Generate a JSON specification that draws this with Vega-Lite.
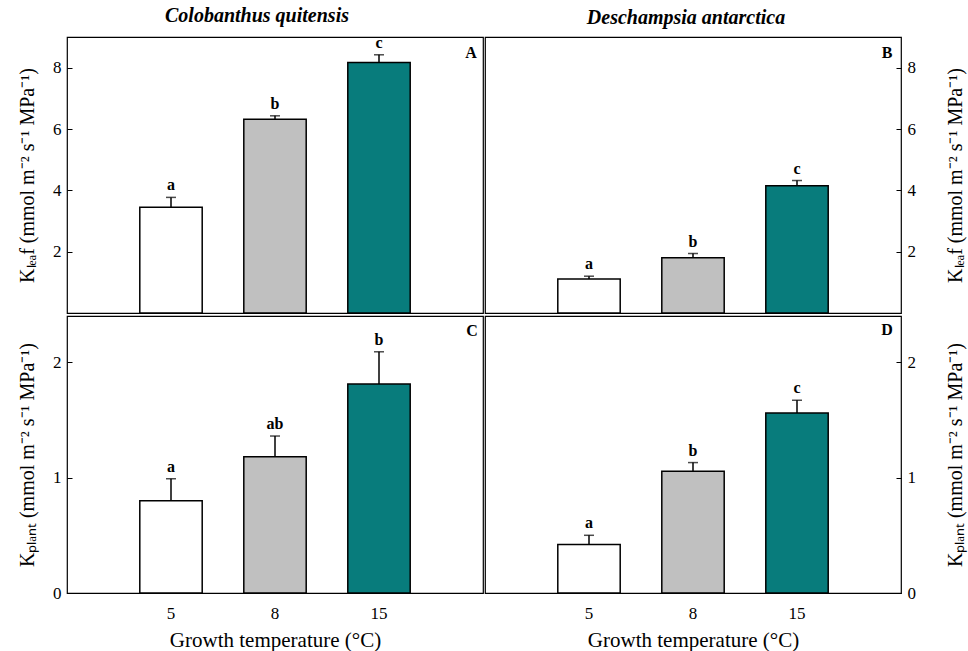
{
  "$schema": "https://vega.github.io/schema/vega-lite/v6.json",
  "padding": {"left": 16, "top": 5, "right": 2, "bottom": 3},
  "background": "white",
  "config": {
    "font": "Liberation Serif",
    "view": {"stroke": "black", "strokeWidth": 1.2},
    "axis": {"labelFont": "Liberation Serif", "titleFont": "Liberation Serif", "labelFontSize": 17, "titleFontSize": 20, "titleFontWeight": "normal", "labelColor": "black", "titleColor": "black", "tickColor": "black", "domain": false, "grid": false},
    "title": {"font": "Liberation Serif", "color": "black"}
  },
  "data": {"values": [
    {"species": "Colobanthus quitensis", "measure": "Kleaf", "temp": "5", "mean": 3.45, "upper": 3.77, "letter": "a"},
    {"species": "Colobanthus quitensis", "measure": "Kleaf", "temp": "8", "mean": 6.32, "upper": 6.43, "letter": "b"},
    {"species": "Colobanthus quitensis", "measure": "Kleaf", "temp": "15", "mean": 8.17, "upper": 8.42, "letter": "c"},
    {"species": "Deschampsia antarctica", "measure": "Kleaf", "temp": "5", "mean": 1.11, "upper": 1.2, "letter": "a"},
    {"species": "Deschampsia antarctica", "measure": "Kleaf", "temp": "8", "mean": 1.8, "upper": 1.94, "letter": "b"},
    {"species": "Deschampsia antarctica", "measure": "Kleaf", "temp": "15", "mean": 4.15, "upper": 4.32, "letter": "c"},
    {"species": "Colobanthus quitensis", "measure": "Kplant", "temp": "5", "mean": 0.8, "upper": 0.99, "letter": "a"},
    {"species": "Colobanthus quitensis", "measure": "Kplant", "temp": "8", "mean": 1.18, "upper": 1.36, "letter": "ab"},
    {"species": "Colobanthus quitensis", "measure": "Kplant", "temp": "15", "mean": 1.81, "upper": 2.09, "letter": "b"},
    {"species": "Deschampsia antarctica", "measure": "Kplant", "temp": "5", "mean": 0.42, "upper": 0.5, "letter": "a"},
    {"species": "Deschampsia antarctica", "measure": "Kplant", "temp": "8", "mean": 1.055, "upper": 1.13, "letter": "b"},
    {"species": "Deschampsia antarctica", "measure": "Kplant", "temp": "15", "mean": 1.56, "upper": 1.67, "letter": "c"}
  ]},
  "spacing": 0,
  "hconcat": [
    {
      "spacing": 0,
      "vconcat": [
        {
          "width": 416, "height": 276,
          "title": {"text": "Colobanthus quitensis", "anchor": "middle", "fontSize": 20, "fontWeight": "bold", "fontStyle": "italic", "frame": "group", "offset": 9, "dx": -18},
          "transform": [{"filter": "datum.species === 'Colobanthus quitensis' && datum.measure === 'Kleaf'"}],
          "encoding": {"x": {"field": "temp", "type": "nominal", "sort": ["5", "8", "15"], "scale": {"paddingInner": 0.4, "paddingOuter": 0.7}, "axis": null}},
          "layer": [
            {"mark": {"type": "bar", "stroke": "black", "strokeWidth": 1.5},
             "encoding": {"y": {"field": "mean", "type": "quantitative", "scale": {"domain": [0, 9], "nice": false}, "axis": {"title": "Kₗₑₐf (mmol m⁻² s⁻¹ MPa⁻¹)", "values": [2, 4, 6, 8], "format": "d", "tickSize": -5, "labelPadding": 11, "titlePadding": 15}},
                          "color": {"field": "temp", "type": "nominal", "scale": {"domain": ["5", "8", "15"], "range": ["#ffffff", "#c0c0c0", "#087c7c"]}, "legend": null}}},
            {"mark": {"type": "rule", "strokeWidth": 1.5, "color": "black"}, "encoding": {"y": {"field": "mean", "type": "quantitative"}, "y2": {"field": "upper"}}},
            {"mark": {"type": "tick", "size": 10, "thickness": 1.5, "color": "black"}, "encoding": {"y": {"field": "upper", "type": "quantitative"}}},
            {"mark": {"type": "text", "dy": -4, "baseline": "bottom", "fontSize": 16, "fontWeight": "bold", "color": "black"}, "encoding": {"y": {"field": "upper", "type": "quantitative"}, "text": {"field": "letter"}}},
            {"transform": [{"filter": "datum.temp === '15'"}], "mark": {"type": "text", "text": "A", "dx": 92, "baseline": "middle", "fontSize": 16, "fontWeight": "bold", "color": "black"}, "encoding": {"x": {"datum": "15"}, "y": {"datum": 8.48}}}
          ]
        },
        {
          "width": 416, "height": 277,
          "transform": [{"filter": "datum.species === 'Colobanthus quitensis' && datum.measure === 'Kplant'"}],
          "encoding": {"x": {"field": "temp", "type": "nominal", "sort": ["5", "8", "15"], "scale": {"paddingInner": 0.4, "paddingOuter": 0.7}, "axis": {"title": "Growth temperature (°C)", "labelAngle": 0, "ticks": false, "labelPadding": 12, "titlePadding": 8, "titleFontSize": 21}}},
          "layer": [
            {"mark": {"type": "bar", "stroke": "black", "strokeWidth": 1.5},
             "encoding": {"y": {"field": "mean", "type": "quantitative", "scale": {"domain": [0, 2.4], "nice": false}, "axis": {"title": "Kₚₗₐₙₜ (mmol m⁻² s⁻¹ MPa⁻¹)", "values": [0, 1, 2], "format": "d", "tickSize": -5, "labelPadding": 11, "titlePadding": 15}},
                          "color": {"field": "temp", "type": "nominal", "scale": {"domain": ["5", "8", "15"], "range": ["#ffffff", "#c0c0c0", "#087c7c"]}, "legend": null}}},
            {"mark": {"type": "rule", "strokeWidth": 1.5, "color": "black"}, "encoding": {"y": {"field": "mean", "type": "quantitative"}, "y2": {"field": "upper"}}},
            {"mark": {"type": "tick", "size": 10, "thickness": 1.5, "color": "black"}, "encoding": {"y": {"field": "upper", "type": "quantitative"}}},
            {"mark": {"type": "text", "dy": -4, "baseline": "bottom", "fontSize": 16, "fontWeight": "bold", "color": "black"}, "encoding": {"y": {"field": "upper", "type": "quantitative"}, "text": {"field": "letter"}}},
            {"transform": [{"filter": "datum.temp === '15'"}], "mark": {"type": "text", "text": "C", "dx": 93, "baseline": "middle", "fontSize": 16, "fontWeight": "bold", "color": "black"}, "encoding": {"x": {"datum": "15"}, "y": {"datum": 2.27}}}
          ]
        }
      ]
    },
    {
      "spacing": 0,
      "vconcat": [
        {
          "width": 416, "height": 276,
          "title": {"text": "Deschampsia antarctica", "anchor": "middle", "fontSize": 20, "fontWeight": "bold", "fontStyle": "italic", "frame": "group", "offset": 9, "dx": -7},
          "transform": [{"filter": "datum.species === 'Deschampsia antarctica' && datum.measure === 'Kleaf'"}],
          "encoding": {"x": {"field": "temp", "type": "nominal", "sort": ["5", "8", "15"], "scale": {"paddingInner": 0.4, "paddingOuter": 0.7}, "axis": null}},
          "layer": [
            {"mark": {"type": "bar", "stroke": "black", "strokeWidth": 1.5},
             "encoding": {"y": {"field": "mean", "type": "quantitative", "scale": {"domain": [0, 9], "nice": false}, "axis": {"orient": "right", "title": "Kₗₑₐf (mmol m⁻² s⁻¹ MPa⁻¹)", "titleAngle": 270, "titleBaseline": "top", "values": [2, 4, 6, 8], "format": "d", "tickSize": -5, "labelPadding": 11, "titlePadding": 30}},
                          "color": {"field": "temp", "type": "nominal", "scale": {"domain": ["5", "8", "15"], "range": ["#ffffff", "#c0c0c0", "#087c7c"]}, "legend": null}}},
            {"mark": {"type": "rule", "strokeWidth": 1.5, "color": "black"}, "encoding": {"y": {"field": "mean", "type": "quantitative"}, "y2": {"field": "upper"}}},
            {"mark": {"type": "tick", "size": 10, "thickness": 1.5, "color": "black"}, "encoding": {"y": {"field": "upper", "type": "quantitative"}}},
            {"mark": {"type": "text", "dy": -4, "baseline": "bottom", "fontSize": 16, "fontWeight": "bold", "color": "black"}, "encoding": {"y": {"field": "upper", "type": "quantitative"}, "text": {"field": "letter"}}},
            {"transform": [{"filter": "datum.temp === '15'"}], "mark": {"type": "text", "text": "B", "dx": 90, "baseline": "middle", "fontSize": 16, "fontWeight": "bold", "color": "black"}, "encoding": {"x": {"datum": "15"}, "y": {"datum": 8.48}}}
          ]
        },
        {
          "width": 416, "height": 277,
          "transform": [{"filter": "datum.species === 'Deschampsia antarctica' && datum.measure === 'Kplant'"}],
          "encoding": {"x": {"field": "temp", "type": "nominal", "sort": ["5", "8", "15"], "scale": {"paddingInner": 0.4, "paddingOuter": 0.7}, "axis": {"title": "Growth temperature (°C)", "labelAngle": 0, "ticks": false, "labelPadding": 12, "titlePadding": 8, "titleFontSize": 21}}},
          "layer": [
            {"mark": {"type": "bar", "stroke": "black", "strokeWidth": 1.5},
             "encoding": {"y": {"field": "mean", "type": "quantitative", "scale": {"domain": [0, 2.4], "nice": false}, "axis": {"orient": "right", "title": "Kₚₗₐₙₜ (mmol m⁻² s⁻¹ MPa⁻¹)", "titleAngle": 270, "titleBaseline": "top", "values": [0, 1, 2], "format": "d", "tickSize": -5, "labelPadding": 11, "titlePadding": 30}},
                          "color": {"field": "temp", "type": "nominal", "scale": {"domain": ["5", "8", "15"], "range": ["#ffffff", "#c0c0c0", "#087c7c"]}, "legend": null}}},
            {"mark": {"type": "rule", "strokeWidth": 1.5, "color": "black"}, "encoding": {"y": {"field": "mean", "type": "quantitative"}, "y2": {"field": "upper"}}},
            {"mark": {"type": "tick", "size": 10, "thickness": 1.5, "color": "black"}, "encoding": {"y": {"field": "upper", "type": "quantitative"}}},
            {"mark": {"type": "text", "dy": -4, "baseline": "bottom", "fontSize": 16, "fontWeight": "bold", "color": "black"}, "encoding": {"y": {"field": "upper", "type": "quantitative"}, "text": {"field": "letter"}}},
            {"transform": [{"filter": "datum.temp === '15'"}], "mark": {"type": "text", "text": "D", "dx": 90, "baseline": "middle", "fontSize": 16, "fontWeight": "bold", "color": "black"}, "encoding": {"x": {"datum": "15"}, "y": {"datum": 2.28}}}
          ]
        }
      ]
    }
  ]
}
